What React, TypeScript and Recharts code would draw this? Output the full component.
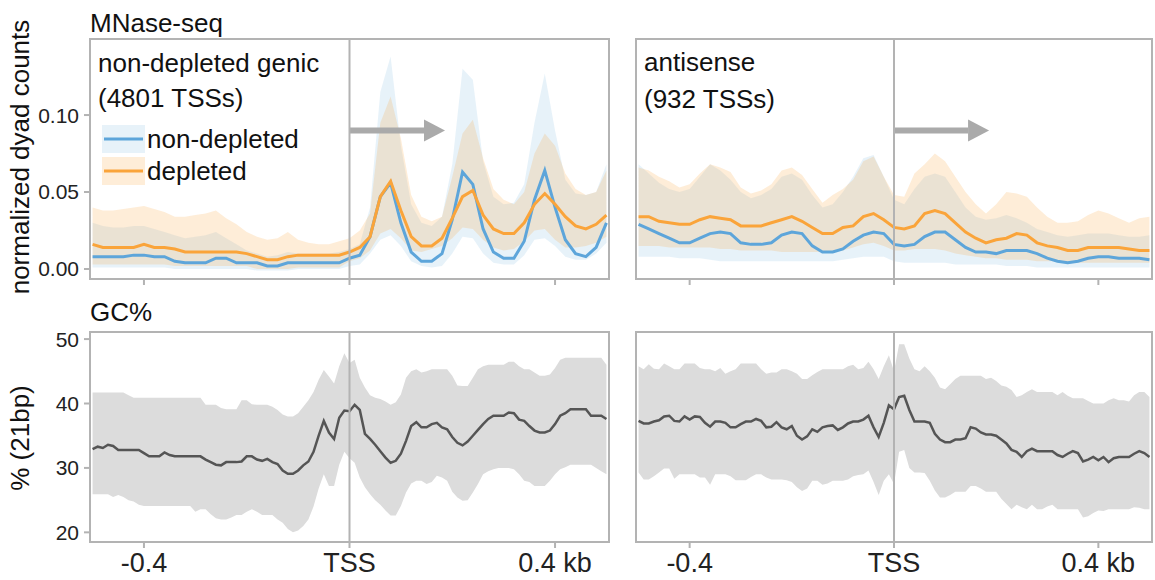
import React from "react";
import {
  ComposedChart,
  Area,
  Line,
  XAxis,
  YAxis,
  ReferenceLine,
  ReferenceDot,
  ReferenceArea,
} from "recharts";

const FONT = '"Liberation Sans", Arial, Helvetica, sans-serif';
const BLUE = "#5DA5DA";
const ORANGE = "#FAA43A";
const GC_LINE = "#555555";
const GC_BAND = "#dcdcdc";
const FRAME = "#b3b3b3";
const ARROW = "#aaaaaa";

const X_DOMAIN = [-0.505, 0.505];
const X_TICKS = [-0.4, 0, 0.4];
const MNASE_Y = [-0.0065, 0.1494];
const MNASE_TICKS = [0, 0.05, 0.1];
const GC_Y = [18.5, 51.1];
const GC_TICKS = [20, 30, 40, 50];

// positions (kb), 20bp steps for MNase
const MNASE_X = [-0.5,-0.48,-0.46,-0.44,-0.42,-0.4,-0.38,-0.36,-0.34,-0.32,-0.3,-0.28,-0.26,-0.24,-0.22,-0.2,-0.18,-0.16,-0.14,-0.12,-0.1,-0.08,-0.06,-0.04,-0.02,0,0.02,0.04,0.06,0.08,0.1,0.12,0.14,0.16,0.18,0.2,0.22,0.24,0.26,0.28,0.3,0.32,0.34,0.36,0.38,0.4,0.42,0.44,0.46,0.48,0.5];

// non-depleted genic
const genicBlue = [0.008,0.008,0.008,0.008,0.009,0.009,0.008,0.008,0.005,0.004,0.004,0.004,0.007,0.007,0.004,0.004,0.004,0.002,0.002,0.004,0.004,0.004,0.004,0.004,0.004,0.007,0.009,0.021,0.047,0.056,0.030,0.011,0.005,0.005,0.010,0.032,0.063,0.055,0.026,0.011,0.007,0.007,0.018,0.045,0.064,0.040,0.019,0.010,0.008,0.014,0.030];
const genicBlueLo = [0.001,0.001,0.001,0.001,0.001,0.001,0.001,0.001,0,0,0,0,0,0,0,0,-0.001,-0.001,-0.001,-0.001,0,0,0,0,0,0.002,0.003,0.010,0.019,0.022,0.015,0.005,0.002,0.001,0.002,0.010,0.021,0.020,0.010,0.004,0.003,0.003,0.009,0.019,0.020,0.015,0.008,0.006,0.006,0.010,0.017];
const genicBlueHi = [0.030,0.028,0.027,0.027,0.028,0.028,0.026,0.024,0.022,0.020,0.021,0.022,0.024,0.020,0.016,0.012,0.010,0.008,0.009,0.011,0.010,0.010,0.010,0.010,0.011,0.013,0.016,0.040,0.115,0.138,0.080,0.042,0.030,0.028,0.034,0.068,0.130,0.123,0.070,0.047,0.042,0.043,0.055,0.095,0.127,0.090,0.058,0.049,0.048,0.050,0.068];
const genicOrange = [0.016,0.014,0.014,0.014,0.014,0.016,0.014,0.014,0.013,0.011,0.011,0.011,0.011,0.011,0.011,0.010,0.008,0.006,0.006,0.008,0.009,0.009,0.009,0.009,0.009,0.011,0.014,0.021,0.047,0.057,0.038,0.021,0.015,0.015,0.020,0.033,0.047,0.051,0.035,0.026,0.023,0.023,0.030,0.042,0.049,0.042,0.034,0.028,0.026,0.029,0.035];
const genicOrangeLo = [0.003,0.003,0.003,0.003,0.003,0.003,0.003,0.003,0.002,0.002,0.002,0.002,0.002,0.002,0.002,0.002,0,0,0,0,0.001,0.001,0.001,0.001,0.001,0.005,0.007,0.012,0.023,0.026,0.020,0.012,0.011,0.013,0.015,0.020,0.027,0.026,0.019,0.014,0.012,0.013,0.018,0.025,0.026,0.019,0.014,0.014,0.015,0.017,0.021];
const genicOrangeHi = [0.040,0.038,0.038,0.039,0.040,0.041,0.039,0.037,0.034,0.034,0.035,0.036,0.038,0.033,0.029,0.024,0.021,0.019,0.020,0.024,0.019,0.017,0.016,0.016,0.018,0.020,0.025,0.036,0.095,0.112,0.085,0.048,0.034,0.031,0.034,0.060,0.088,0.097,0.072,0.052,0.045,0.042,0.050,0.075,0.088,0.080,0.062,0.052,0.048,0.050,0.064];

// antisense
const antiBlue = [0.029,0.026,0.023,0.020,0.017,0.017,0.020,0.023,0.024,0.023,0.017,0.016,0.016,0.017,0.022,0.024,0.023,0.015,0.011,0.011,0.013,0.018,0.022,0.024,0.023,0.016,0.015,0.016,0.021,0.024,0.024,0.019,0.014,0.011,0.011,0.010,0.012,0.012,0.012,0.010,0.007,0.005,0.004,0.005,0.007,0.008,0.008,0.007,0.007,0.007,0.006];
const antiBlueLo = [0.008,0.008,0.008,0.008,0.007,0.007,0.007,0.006,0.005,0.005,0.005,0.005,0.005,0.005,0.005,0.005,0.005,0.005,0.005,0.005,0.006,0.007,0.008,0.008,0.008,0.005,0.004,0.004,0.004,0.004,0.004,0.003,0.003,0.003,0.003,0.003,0.002,0.002,0.002,0.001,0.001,0.001,0.001,0.001,0.001,0.001,0.001,0.001,0.001,0.001,0.001];
const antiBlueHi = [0.068,0.062,0.056,0.052,0.050,0.052,0.060,0.068,0.064,0.058,0.050,0.046,0.048,0.052,0.060,0.062,0.058,0.048,0.040,0.042,0.050,0.060,0.072,0.074,0.060,0.045,0.042,0.052,0.060,0.062,0.060,0.050,0.040,0.034,0.032,0.033,0.035,0.033,0.030,0.026,0.024,0.022,0.021,0.022,0.023,0.023,0.023,0.022,0.021,0.021,0.022];
const antiOrange = [0.034,0.034,0.031,0.030,0.029,0.029,0.032,0.034,0.033,0.032,0.028,0.028,0.028,0.030,0.032,0.034,0.031,0.027,0.023,0.023,0.027,0.028,0.034,0.036,0.032,0.027,0.026,0.028,0.036,0.038,0.036,0.030,0.024,0.020,0.017,0.019,0.020,0.023,0.022,0.017,0.015,0.014,0.012,0.012,0.014,0.014,0.014,0.014,0.013,0.012,0.012];
const antiOrangeLo = [0.015,0.015,0.015,0.014,0.014,0.014,0.014,0.014,0.013,0.013,0.012,0.012,0.012,0.012,0.011,0.011,0.011,0.011,0.011,0.011,0.012,0.014,0.016,0.017,0.015,0.012,0.012,0.013,0.013,0.013,0.012,0.010,0.009,0.008,0.007,0.007,0.006,0.006,0.006,0.005,0.005,0.005,0.004,0.004,0.004,0.004,0.004,0.004,0.004,0.004,0.004];
const antiOrangeHi = [0.066,0.064,0.060,0.057,0.053,0.055,0.062,0.068,0.066,0.063,0.053,0.049,0.051,0.055,0.064,0.066,0.061,0.052,0.043,0.048,0.052,0.058,0.070,0.073,0.060,0.048,0.047,0.062,0.068,0.075,0.070,0.060,0.050,0.042,0.036,0.042,0.050,0.049,0.047,0.040,0.034,0.030,0.030,0.031,0.035,0.038,0.036,0.033,0.030,0.033,0.034];

// positions (kb), 10bp steps for GC%
const GC_X = [-0.5,-0.49,-0.48,-0.47,-0.46,-0.45,-0.44,-0.43,-0.42,-0.41,-0.4,-0.39,-0.38,-0.37,-0.36,-0.35,-0.34,-0.33,-0.32,-0.31,-0.3,-0.29,-0.28,-0.27,-0.26,-0.25,-0.24,-0.23,-0.22,-0.21,-0.2,-0.19,-0.18,-0.17,-0.16,-0.15,-0.14,-0.13,-0.12,-0.11,-0.1,-0.09,-0.08,-0.07,-0.06,-0.05,-0.04,-0.03,-0.02,-0.01,0,0.01,0.02,0.03,0.04,0.05,0.06,0.07,0.08,0.09,0.1,0.11,0.12,0.13,0.14,0.15,0.16,0.17,0.18,0.19,0.2,0.21,0.22,0.23,0.24,0.25,0.26,0.27,0.28,0.29,0.3,0.31,0.32,0.33,0.34,0.35,0.36,0.37,0.38,0.39,0.4,0.41,0.42,0.43,0.44,0.45,0.46,0.47,0.48,0.49,0.5];

const gcGenic = [32.9,33.3,33.1,33.6,33.4,32.8,32.8,32.8,32.8,32.8,32.3,31.8,31.8,31.8,32.4,32.0,31.8,31.8,31.8,31.8,31.8,31.8,31.3,30.9,30.5,30.4,30.9,30.9,30.9,31.0,31.8,31.8,31.3,31.1,31.4,30.9,30.6,29.6,29.1,29.1,29.6,30.4,31.0,32.5,35.0,37.3,35.5,34.5,37.8,38.9,38.8,39.8,39.0,35.3,34.5,33.6,32.6,31.6,30.8,31.1,32.2,34.2,36.5,37.1,36.3,36.3,36.8,37.0,36.3,36.0,34.8,33.9,33.5,34.1,35.0,35.9,36.8,37.6,38.1,38.1,38.1,38.6,38.5,37.5,37.3,36.5,35.8,35.5,35.5,35.8,36.8,38.1,38.5,39.1,39.1,39.1,39.1,38.1,38.1,38.1,37.6];
const gcGenicLo = [25.9,25.9,25.9,25.9,25.5,25.8,25.5,25.0,24.8,24.3,24.1,24.1,24.1,24.1,24.1,24.1,24.1,24.1,24.1,24.1,23.2,23.6,23.6,22.8,22.2,22.0,22.0,22.3,22.7,22.7,23.2,23.6,23.2,22.7,22.7,22.7,22.0,21.5,20.5,20.0,20.3,21.0,22.0,24.0,26.8,29.0,27.2,27.2,30.5,32.5,31.5,30.8,28.5,27.0,25.9,25.0,24.3,23.4,22.6,22.6,24.1,26.2,27.6,28.0,28.0,27.5,27.8,28.8,28.5,28.0,26.3,25.4,24.9,25.0,26.2,27.5,29.0,29.5,29.8,30.0,30.0,30.0,29.8,29.0,28.0,27.8,27.2,27.2,27.2,28.0,29.0,29.8,30.1,30.5,30.5,30.5,30.5,30.5,30.0,29.5,29.0];
const gcGenicHi = [41.7,41.7,41.7,41.7,41.7,41.7,41.7,41.3,40.9,40.9,40.9,40.9,40.9,40.9,40.9,40.9,40.9,40.9,40.9,40.9,40.9,40.9,39.8,39.8,39.8,39.3,39.1,39.1,39.1,40.5,40.5,39.9,39.8,39.8,39.8,39.5,39.0,38.3,38.0,38.0,38.5,39.5,40.5,41.8,43.7,45.2,44.2,43.1,45.8,47.8,46.3,46.8,44.0,42.5,41.3,40.9,40.7,40.3,39.8,40.2,41.4,44.0,45.0,45.3,44.8,45.0,45.3,45.3,45.3,45.3,44.3,42.8,42.7,42.7,44.0,45.3,45.8,46.0,46.0,46.0,46.0,46.5,46.5,45.8,45.3,45.3,44.8,44.3,44.3,44.5,45.5,46.8,47.1,47.1,47.1,47.1,47.1,47.1,47.1,47.1,46.0];

const gcAnti = [37.3,36.9,36.9,37.2,37.4,38.0,38.1,37.3,37.2,38.0,37.5,38.0,37.9,37.0,36.4,37.2,37.2,37.0,36.3,36.3,36.8,37.2,37.2,37.6,37.3,36.3,36.4,37.1,36.3,36.0,36.5,35.0,34.4,34.9,36.0,35.6,36.3,36.5,36.6,35.9,36.3,36.9,37.2,37.2,37.5,38.1,36.3,34.8,37.0,39.7,39.1,41.0,41.2,39.0,37.2,37.2,37.2,37.0,35.3,34.4,34.0,34.0,34.4,34.4,34.6,36.3,36.1,35.5,35.2,35.2,35.0,34.4,33.8,32.8,32.5,31.7,32.6,33.0,32.6,32.6,32.6,32.6,32.0,31.7,32.2,32.6,32.3,31.0,31.3,31.7,31.2,31.7,30.9,31.5,31.7,31.7,31.7,32.2,32.6,32.3,31.7];
const gcAntiLo = [29.3,28.2,28.2,28.7,29.3,29.9,29.9,28.3,29.0,29.0,29.0,29.0,28.5,28.5,27.4,29.0,29.0,29.0,28.7,28.1,28.1,28.1,28.6,29.0,29.0,28.5,28.2,28.2,28.2,28.1,27.8,27.0,26.4,26.8,28.0,28.0,27.4,27.6,28.0,28.0,28.0,28.2,28.7,28.9,29.0,29.6,27.8,25.8,28.0,29.0,27.5,32.5,32.8,30.0,29.3,29.3,29.2,28.0,26.5,25.4,25.4,25.8,26.3,26.3,26.3,27.2,27.2,26.8,26.3,26.3,26.3,25.2,24.4,23.6,24.3,23.9,23.6,24.3,23.6,23.6,24.0,24.3,23.6,23.6,23.6,23.6,23.6,22.3,22.5,23.0,23.4,23.3,23.6,23.6,23.6,23.6,23.6,23.9,23.8,23.6,23.6];
const gcAntiHi = [45.8,45.3,46.1,45.4,45.3,46.2,45.8,45.3,45.3,46.2,46.2,46.2,45.5,45.3,45.3,45.0,45.5,44.6,45.0,45.3,46.2,46.2,46.2,46.2,45.3,44.6,44.8,44.8,45.3,45.3,45.0,44.6,43.8,43.8,44.4,44.9,45.3,45.3,45.3,45.3,45.3,45.8,46.0,45.3,45.5,46.5,45.3,43.8,45.8,47.5,45.0,49.2,49.2,47.0,45.3,45.0,45.8,45.0,44.0,42.5,42.2,43.0,43.8,44.3,44.3,44.3,44.3,44.3,43.8,44.0,43.5,42.8,42.6,42.1,41.0,41.3,41.8,42.2,41.8,41.8,41.8,41.8,41.3,41.8,41.2,40.8,40.8,40.8,40.4,40.0,40.0,40.0,40.5,40.8,40.5,40.5,40.3,41.3,41.8,41.8,41.0];

type MnaseRow = { x: number; blue: number; orange: number; blueBand: number[]; orangeBand: number[] };
type GcRow = { x: number; gc: number; band: number[] };

const mnaseRows = (b: number[], bLo: number[], bHi: number[], o: number[], oLo: number[], oHi: number[]): MnaseRow[] =>
  MNASE_X.map((x, i) => ({ x, blue: b[i], orange: o[i], blueBand: [bLo[i], bHi[i]], orangeBand: [oLo[i], oHi[i]] }));

const gcRows = (m: number[], lo: number[], hi: number[]): GcRow[] =>
  GC_X.map((x, i) => ({ x, gc: m[i], band: [lo[i], hi[i]] }));

const genicData = mnaseRows(genicBlue, genicBlueLo, genicBlueHi, genicOrange, genicOrangeLo, genicOrangeHi);
const antiData = mnaseRows(antiBlue, antiBlueLo, antiBlueHi, antiOrange, antiOrangeLo, antiOrangeHi);
const gcGenicData = gcRows(gcGenic, gcGenicLo, gcGenicHi);
const gcAntiData = gcRows(gcAnti, gcAntiLo, gcAntiHi);

const tickLine = { stroke: FRAME, strokeWidth: 2 };

const ArrowHead = (props: any) => {
  const { cx, cy } = props;
  if (cx == null || cy == null) return null;
  return <polygon points={`${cx},${cy - 11} ${cx + 21},${cy} ${cx},${cy + 11}`} fill={ARROW} />;
};

const xLabel = (v: number) => (v === 0 ? "TSS" : v > 0 ? `${v} kb` : `${v}`);

function MnasePanel({ data, left, width, marginLeft, marginRight, showY }: any) {
  return (
    <div style={{ position: "absolute", left, top: 0 }}>
      <ComposedChart width={width} height={290} data={data} margin={{ top: 39, right: marginRight, bottom: 0, left: marginLeft }}>
        <XAxis type="number" dataKey="x" domain={X_DOMAIN} ticks={X_TICKS} tickFormatter={() => ""} height={11} tickSize={6} axisLine={false} tickLine={tickLine} />
        <YAxis
          type="number"
          domain={MNASE_Y}
          ticks={MNASE_TICKS}
          hide={!showY}
          width={90}
          tickSize={6}
          tickMargin={5}
          axisLine={false}
          tickLine={tickLine}
          tickFormatter={(v: number) => v.toFixed(2)}
          tick={{ fill: "#222", fontSize: 21, fontFamily: FONT }}
        />
        <ReferenceLine segment={[{ x: 0, y: 0.09 }, { x: 0.145, y: 0.09 }]} stroke={ARROW} strokeWidth={6} />
        <ReferenceDot x={0.145} y={0.09} r={1} shape={ArrowHead} />
        <Area dataKey="blueBand" type="linear" stroke="none" fill={BLUE} fillOpacity={0.15} isAnimationActive={false} activeDot={false} />
        <Area dataKey="orangeBand" type="linear" stroke="none" fill={ORANGE} fillOpacity={0.2} isAnimationActive={false} activeDot={false} />
        <Line dataKey="blue" type="linear" stroke={BLUE} strokeWidth={3} dot={false} isAnimationActive={false} />
        <Line dataKey="orange" type="linear" stroke={ORANGE} strokeWidth={3} dot={false} isAnimationActive={false} />
        <ReferenceLine x={0} stroke={FRAME} strokeWidth={2} />
        <ReferenceArea x1={X_DOMAIN[0]} x2={X_DOMAIN[1]} y1={MNASE_Y[0]} y2={MNASE_Y[1]} fill="none" stroke={FRAME} strokeWidth={2} />
      </ComposedChart>
    </div>
  );
}

function GcPanel({ data, left, width, marginLeft, marginRight, showY }: any) {
  return (
    <div style={{ position: "absolute", left, top: 290 }}>
      <ComposedChart width={width} height={290} data={data} margin={{ top: 42, right: marginRight, bottom: 0, left: marginLeft }}>
        <XAxis
          type="number"
          dataKey="x"
          domain={X_DOMAIN}
          ticks={X_TICKS}
          tickFormatter={xLabel}
          height={38}
          tickSize={6}
          tickMargin={5}
          axisLine={false}
          tickLine={tickLine}
          tick={{ fill: "#222", fontSize: 27, fontFamily: FONT }}
        />
        <YAxis
          type="number"
          domain={GC_Y}
          ticks={GC_TICKS}
          hide={!showY}
          width={90}
          tickSize={6}
          tickMargin={5}
          axisLine={false}
          tickLine={tickLine}
          tick={{ fill: "#222", fontSize: 21, fontFamily: FONT }}
        />
        <Area dataKey="band" type="linear" stroke="none" fill={GC_BAND} fillOpacity={1} isAnimationActive={false} activeDot={false} />
        <Line dataKey="gc" type="linear" stroke={GC_LINE} strokeWidth={2.5} dot={false} isAnimationActive={false} />
        <ReferenceLine x={0} stroke={FRAME} strokeWidth={2} />
        <ReferenceArea x1={X_DOMAIN[0]} x2={X_DOMAIN[1]} y1={GC_Y[0]} y2={GC_Y[1]} fill="none" stroke={FRAME} strokeWidth={2} />
      </ComposedChart>
    </div>
  );
}

export default function App() {
  return (
    <div style={{ position: "absolute", left: 0, top: 0, width: 1155, height: 580, background: "#fff", fontFamily: FONT, overflow: "hidden" }}>
      <MnasePanel data={genicData} left={0} width={620} marginLeft={0} marginRight={11} showY />
      <MnasePanel data={antiData} left={620} width={535} marginLeft={16} marginRight={3} showY={false} />
      <GcPanel data={gcGenicData} left={0} width={620} marginLeft={0} marginRight={11} showY />
      <GcPanel data={gcAntiData} left={620} width={535} marginLeft={16} marginRight={3} showY={false} />
      <svg width={1155} height={580} style={{ position: "absolute", left: 0, top: 0, pointerEvents: "none" }} fontFamily={FONT} fill="#111">
        <text x={90} y={32} fontSize={26}>MNase-seq</text>
        <text x={90} y={321} fontSize={26}>GC%</text>
        <text transform="translate(29,157) rotate(-90)" textAnchor="middle" fontSize={26}>normalized dyad counts</text>
        <text transform="translate(29,438) rotate(-90)" textAnchor="middle" fontSize={26}>% (21bp)</text>
        <text x={98} y={72} fontSize={26}>non-depleted genic</text>
        <text x={98} y={107} fontSize={26}>(4801 TSSs)</text>
        <text x={644} y={71} fontSize={26}>antisense</text>
        <text x={644} y={108} fontSize={26}>(932 TSSs)</text>
        <rect x={102} y={125} width={43} height={28} fill={BLUE} fillOpacity={0.15} />
        <line x1={104} x2={143} y1={139} y2={139} stroke={BLUE} strokeWidth={3} />
        <text x={147} y={148} fontSize={26}>non-depleted</text>
        <rect x={102} y={157} width={43} height={28} fill={ORANGE} fillOpacity={0.2} />
        <line x1={104} x2={143} y1={171} y2={171} stroke={ORANGE} strokeWidth={3} />
        <text x={147} y={180} fontSize={26}>depleted</text>
      </svg>
    </div>
  );
}
